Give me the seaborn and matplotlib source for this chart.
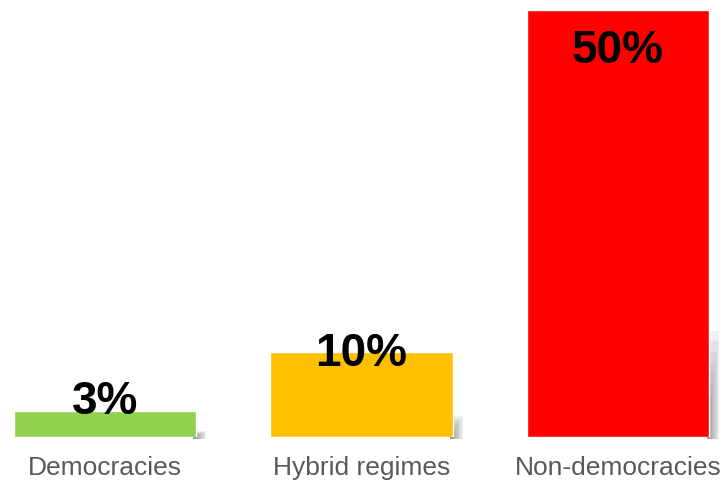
import matplotlib
matplotlib.use("Agg")
import matplotlib.pyplot as plt
import seaborn as sns
import pandas as pd
from matplotlib.patches import Rectangle

categories = ["Democracies", "Hybrid regimes", "Non-democracies"]
values = [3, 10, 50]
value_labels = ["3%", "10%", "50%"]
colors = ["#92D050", "#FFC000", "#FF0000"]
label_offsets_px = [9, -2, -41]  # vertical offset of the value label relative to bar top

sns.set_theme(style="white")
plt.rcParams["font.family"] = ["Liberation Sans", "DejaVu Sans"]

df = pd.DataFrame({"category": categories, "value": values})

fig = plt.figure(figsize=(7.23, 4.82), dpi=100)
ax = fig.add_axes([0, 45 / 482, 1, 427 / 482])

bar_width = 182 / 256.5
sns.barplot(data=df, x="category", y="value", hue="category", palette=colors,
            width=bar_width, legend=False, ax=ax, saturation=1, zorder=3)

ax.set_xlim(-0.409, 2.409)
ax.set_ylim(0, 50)

# soft shadows on the right lower side of each bar
for i, v in enumerate(values):
    right = i + bar_width / 2
    n = 10
    for k in range(n):
        w = 0.05 * (k + 1) / n
        h = 0.25 * v * (k + 1) / n + 0.2
        ax.add_patch(Rectangle((right - 0.01, -0.25), w, h, facecolor="#606060",
                               alpha=0.09, edgecolor="none", zorder=1, clip_on=False))

# value labels
for i, (v, lab, off) in enumerate(zip(values, value_labels, label_offsets_px)):
    ax.annotate(lab, xy=(i, v), xytext=(0, off * 72 / 100), textcoords="offset points",
                ha="center", va="center", fontsize=33, fontweight="bold",
                color="black", zorder=5)

ax.set_xlabel("")
ax.set_ylabel("")
ax.set_yticks([])
ax.tick_params(axis="x", length=0, pad=14, labelsize=19, labelcolor="#595959")
for s in ax.spines.values():
    s.set_visible(False)

fig.savefig("out.png", dpi=100)
